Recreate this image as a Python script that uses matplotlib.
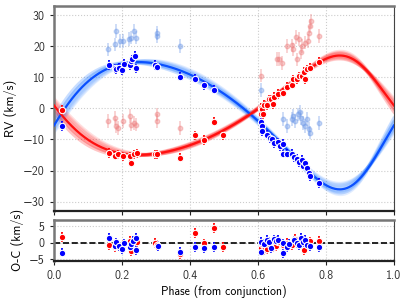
"""视向速度相位图 - 双谱分光双星 + O-C 残差"""
import matplotlib
matplotlib.use('Agg')
import matplotlib.pyplot as plt
import numpy as np

plt.rcParams['font.family'] = ['cmss10', 'DejaVu Sans']
plt.rcParams['axes.formatter.use_mathtext'] = False
plt.rcParams['axes.unicode_minus'] = True
plt.rcParams['font.size'] = 8.5

# 轨道参数: K1, K2, e, omega(deg), gamma, 近星点相位
orbit = [20.5, 16.0, 0.23, 218.0, -1.85, 0.907]
# 后验样本 (K1, K2, e, omega, gamma)
samples_k1 = [20.0, 20.8, 21.2, 19.8, 20.4, 20.9, 20.2, 21.0, 20.6, 19.9, 20.3, 20.7]
samples_k2 = [15.6, 16.3, 16.8, 15.4, 16.0, 16.5, 15.8, 16.6, 16.2, 15.5, 15.9, 16.4]
samples_e = [0.19, 0.25, 0.28, 0.17, 0.22, 0.26, 0.20, 0.27, 0.24, 0.18, 0.21, 0.25]
samples_w = [216.0, 220.0, 221.0, 214.0, 218.0, 219.0, 217.0, 222.0, 219.0, 215.0, 217.0, 220.0]
samples_g = [-1.7, -1.9, -2.0, -1.6, -1.85, -1.95, -1.8, -2.0, -1.9, -1.7, -1.8, -1.9]

# 主星 (蓝) 视向速度
ph1 = [0.024, 0.161, 0.180, 0.184, 0.192, 0.200, 0.205, 0.224, 0.226, 0.231, 0.238, 0.241,
       0.297, 0.304, 0.371, 0.414, 0.441, 0.471,
       0.608, 0.611, 0.612, 0.627, 0.635, 0.641, 0.648, 0.660, 0.664, 0.673, 0.675, 0.686,
       0.699, 0.706, 0.714, 0.722, 0.729, 0.733, 0.738, 0.745, 0.751, 0.753, 0.780]
rv1 = [-5.7, 14.0, 12.9, 12.6, 13.1, 12.4, 14.4, 13.9, 15.2, 15.8, 16.9, 12.9,
       14.0, 13.5, 10.2, 9.6, 7.5, 6.1,
       -4.3, -5.7, -7.3, -8.4, -9.5, -10.0, -11.1, -10.9, -12.2, -14.6, -11.4, -14.6,
       -14.7, -15.6, -16.2, -17.3, -16.5, -18.4, -17.7, -19.1, -20.7, -21.8, -24.0]

# 次星 (红) 视向速度
ph2 = [0.024, 0.161, 0.181, 0.188, 0.204, 0.224, 0.226, 0.236, 0.243, 0.297, 0.304,
       0.371, 0.414, 0.441, 0.471, 0.498,
       0.609, 0.610, 0.611, 0.616, 0.619, 0.626, 0.632, 0.640, 0.645, 0.647, 0.660, 0.673,
       0.686, 0.699, 0.704, 0.714, 0.722, 0.729, 0.736, 0.738, 0.745, 0.753, 0.780]
rv2 = [-0.5, -14.3, -15.2, -14.8, -15.4, -15.4, -17.5, -14.8, -14.5, -14.8, -14.8,
       -15.9, -8.7, -10.2, -4.3, -8.7,
       0.2, -1.7, -0.1, -1.9, 1.2, 1.0, 2.9, 2.9, 1.3, 3.8, 4.7, 5.1,
       7.0, 7.7, 9.4, 9.4, 10.4, 10.6, 11.7, 9.4, 12.6, 13.1, 15.1]

# 浅色点：另一组测量
ph1_raw = [0.160, 0.179, 0.182, 0.194, 0.204, 0.222, 0.226, 0.235, 0.241, 0.304, 0.304, 0.371,
           0.609, 0.675, 0.686, 0.699, 0.704, 0.710, 0.717, 0.724, 0.728, 0.733, 0.738,
           0.745, 0.750, 0.753, 0.780]
rv1_raw = [19.0, 20.6, 24.9, 21.7, 21.7, 22.3, 22.8, 24.9, 22.8, 24.4, 23.4, 20.1,
           5.9, -3.5, -5.7, -3.3, -2.5, -4.1, -1.9, -1.2, -3.0, -4.6, -5.7,
           -3.5, -6.6, -7.8, -4.6]
ph2_raw = [0.160, 0.179, 0.184, 0.189, 0.204, 0.224, 0.226, 0.235, 0.241, 0.304, 0.304, 0.371,
           0.608, 0.655, 0.663, 0.672, 0.686, 0.699, 0.704, 0.711, 0.714, 0.721, 0.728,
           0.731, 0.738, 0.746, 0.750, 0.753, 0.755, 0.780]
rv2_raw = [-4.1, -3.0, -5.7, -6.2, -4.1, -2.5, -5.2, -4.6, -5.2, -1.9, -4.1, -6.2,
           10.6, 16.0, 16.0, 14.7, 20.1, 20.3, 19.0, 23.1, 15.8, 22.3, 18.2,
           20.1, 21.2, 21.7, 24.4, 26.5, 28.2, 23.3]

# O-C 残差
oc1_ph = [0.024, 0.161, 0.180, 0.184, 0.192, 0.200, 0.206, 0.225, 0.228, 0.233, 0.240, 0.241,
          0.307, 0.371, 0.414, 0.441, 0.471,
          0.609, 0.609, 0.618, 0.626, 0.632, 0.640, 0.647, 0.653, 0.660, 0.673, 0.673, 0.686,
          0.693, 0.707, 0.714, 0.720, 0.728, 0.733, 0.740, 0.745, 0.753, 0.780]
oc1 = [-3.0, 1.6, -1.0, 0.1, -1.0, -1.9, -0.2, -1.2, -0.5, 0.6, 1.5, -2.2,
       -1.0, -2.7, -1.4, -1.7, -1.2,
       0.3, -2.7, -0.5, 0.8, 0.2, -1.7, 1.0, 0.5, 0.8, -3.2, -0.2, -1.2,
       -0.5, 0.7, -0.2, -0.8, 1.6, 0.3, 0.9, -0.7, -1.1, -1.4]
oc2_ph = [0.024, 0.161, 0.181, 0.188, 0.204, 0.224, 0.226, 0.236, 0.243, 0.297, 0.304,
          0.371, 0.414, 0.441, 0.471, 0.498,
          0.609, 0.612, 0.619, 0.626, 0.634, 0.645, 0.652, 0.660, 0.673, 0.686, 0.699,
          0.710, 0.722, 0.735, 0.745, 0.753, 0.780]
oc2 = [1.7, -0.7, -1.4, -0.6, -0.8, 0.5, -2.5, 0.4, 0.3, 0.0, -0.7,
       -3.4, 2.9, -0.2, 4.4, -1.4,
       -1.5, -0.3, -2.2, -1.8, -0.5, -1.2, -1.0, 0.3, -0.8, 0.0, -0.8,
       1.2, -0.3, -2.3, -0.5, 0.4, 0.5]

err = 1.5
err_raw = 2.2


def kepler_rv(phase, k1, k2, e, w, g, tp):
    """开普勒轨道视向速度"""
    m = 2 * np.pi * (phase - tp)
    ecc = m.copy()
    for _ in range(30):
        ecc = ecc - (ecc - e * np.sin(ecc) - m) / (1 - e * np.cos(ecc))
    nu = 2 * np.arctan2(np.sqrt(1 + e) * np.sin(ecc / 2), np.sqrt(1 - e) * np.cos(ecc / 2))
    w = np.radians(w)
    s = np.cos(nu + w) + e * np.cos(w)
    return g + k1 * s, g - k2 * s


fig = plt.figure(figsize=(4.15, 3.0), dpi=100)
ax = fig.add_axes([0.130, 0.297, 0.819, 0.683])
ax2 = fig.add_axes([0.130, 0.131, 0.819, 0.136])

phase = np.linspace(0, 1, 400)
tp = orbit[5]
for k1, k2, e, w, g in zip(samples_k1, samples_k2, samples_e, samples_w, samples_g):
    v1, v2 = kepler_rv(phase, k1, k2, e, w, g, tp)
    ax.plot(phase, v1, color='#3d8bff', lw=2.5, alpha=0.15, zorder=2)
    ax.plot(phase, v2, color='#ff3030', lw=2.5, alpha=0.15, zorder=2)
v1, v2 = kepler_rv(phase, *orbit)
ax.plot(phase, v1, color='#0a50ff', lw=1.6, zorder=3)
ax.plot(phase, v2, color='#ff1010', lw=1.6, zorder=3)

# 浅色点
ax.errorbar(ph1_raw, rv1_raw, yerr=err_raw, fmt='o', color='#6f9ae8', ms=3.2,
            elinewidth=1.2, alpha=0.4, zorder=1)
ax.errorbar(ph2_raw, rv2_raw, yerr=err_raw, fmt='o', color='#ee8080', ms=3.2,
            elinewidth=1.2, alpha=0.4, zorder=1)

# 主要数据点
kw = dict(fmt='o', ms=4.6, mec='white', mew=0.8, elinewidth=1.3, zorder=4)
ax.errorbar(ph2, rv2, yerr=err, color='#ff0000', **kw)
ax.errorbar(ph1, rv1, yerr=err, color='#0000ff', **kw)

ax2.axhline(0, color='black', ls='--', lw=1.2, zorder=1)
ax2.errorbar(oc2_ph, oc2, yerr=err, color='#ff0000', **kw)
ax2.errorbar(oc1_ph, oc1, yerr=err, color='#0000ff', **kw)

ax.set_xlim(0, 1)
ax.set_ylim(-33, 33)
ax.set_yticks([-30, -20, -10, 0, 10, 20, 30])
ax.set_xticks([0, 0.2, 0.4, 0.6, 0.8, 1.0])
ax.tick_params(labelbottom=False)
ax.set_ylabel('RV (km/s)', fontsize=9)

ax2.set_xlim(0, 1)
ax2.set_ylim(-5.5, 7)
ax2.set_yticks([-5, 0, 5])
ax2.set_xticks([0, 0.2, 0.4, 0.6, 0.8, 1.0])
ax2.set_xticklabels(['0.0', '0.2', '0.4', '0.6', '0.8', '1.0'])
ax2.set_xlabel('Phase (from conjunction)', labelpad=2)
ax2.set_ylabel('O-C (km/s)', fontsize=9)

for a in (ax, ax2):
    a.grid(True, ls=':', color='#cccccc', lw=0.8)
    a.set_axisbelow(True)
    for side in ('left', 'top'):
        a.spines[side].set_color('#777777')
        a.spines[side].set_linewidth(1.8)
    a.spines['bottom'].set_color('#222222')
    a.spines['bottom'].set_linewidth(1.6)
    a.spines['right'].set_color('#444444')
    a.spines['right'].set_linewidth(0.8)
    a.tick_params(direction='out', length=3, width=0.8, colors='#222222', labelcolor='#333333')

fig.align_ylabels([ax, ax2])
plt.savefig('out.png', dpi=100)
plt.close()
